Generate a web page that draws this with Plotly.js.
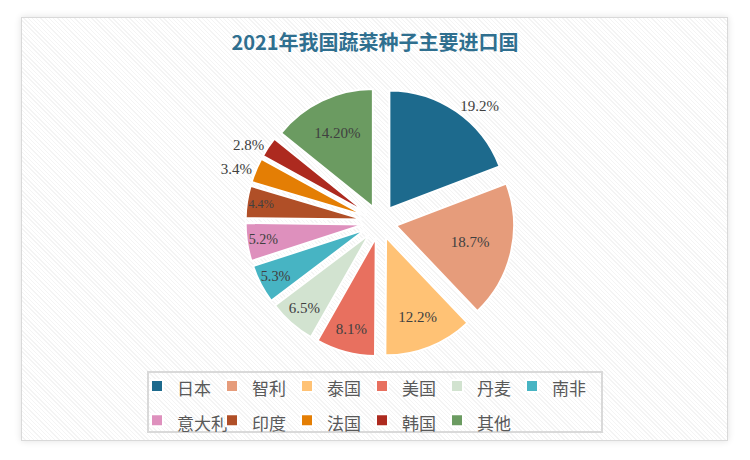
<!DOCTYPE html>
<html>
<head>
<meta charset="utf-8">
<script src="https://cdn.plot.ly/plotly-3.0.1.min.js"></script>
<style>
  html, body { margin: 0; padding: 0; background: #ffffff; }
  #wrap { position: relative; width: 750px; height: 460px; overflow: hidden; background: #ffffff; }
  #panel {
    position: absolute; left: 21px; top: 17px; width: 707px; height: 424px;
    border: 1px solid #d9d9d9; box-sizing: border-box;
    box-shadow: 0 0 7px rgba(0,0,0,0.12);
    background-color: #ffffff;
    background-image: repeating-linear-gradient(45deg, #ffffff 0px, #ffffff 2px, #f4f4f4 2px, #f4f4f4 3px);
  }
  #chart { position: absolute; left: 0; top: 0; width: 750px; height: 460px; }
</style>
</head>
<body>
<div id="wrap">
  <div id="panel"></div>
  <div id="chart"></div>
</div>
<script>
const countries = ['日本', '智利', '泰国', '美国', '丹麦', '南非', '意大利', '印度', '法国', '韩国', '其他'];
const shares = [19.2, 18.7, 12.2, 8.1, 6.5, 5.3, 5.2, 4.4, 3.4, 2.8, 14.2];
const shareLabels = ['19.2%', '18.7%', '12.2%', '8.1%', '6.5%', '5.3%', '5.2%', '4.4%', '3.4%', '2.8%', '14.20%'];
const sliceColors = ['#1d6a8d', '#e69c7b', '#ffc275', '#e8705f', '#d2e3d0', '#47b4c3', '#de90bd', '#b04f27', '#e47e04', '#ad2a1f', '#6b9b61'];
const labelPositions = ['outside', 'inside', 'inside', 'inside', 'inside', 'inside', 'inside', 'inside', 'outside', 'outside', 'inside'];

const legendNames = countries.map(c => '<span style="font-size:17px">' + c + '</span>');

const W = 750, H = 460, ML = 125, MR = 140;
const PW = W - ML - MR;
const px = x => (x - ML) / PW;
const py = y => (H - y) / H;

const labelFont = { family: 'Liberation Serif, DejaVu Serif, serif', size: 15, color: '#404040' };

const trace = {
  type: 'pie',
  labels: legendNames,
  values: shares,
  text: shareLabels,
  textinfo: 'text',
  textposition: labelPositions,
  insidetextorientation: 'horizontal',
  sort: false,
  direction: 'clockwise',
  rotation: 0,
  pull: 0.14,
  marker: { colors: sliceColors, line: { color: '#ffffff', width: 2 } },
  textfont: labelFont,
  insidetextfont: labelFont,
  outsidetextfont: labelFont,
  domain: { x: [px(245.5), px(514.5)], y: [py(356.5), py(87.5)] },
  hoverinfo: 'label+percent'
};

const layout = {
  width: W,
  height: H,
  margin: { l: ML, r: MR, t: 0, b: 0, autoexpand: false },
  paper_bgcolor: 'rgba(0,0,0,0)',
  plot_bgcolor: 'rgba(0,0,0,0)',
  title: {
    text: '<b>2021年我国蔬菜种子主要进口国</b>',
    font: { family: 'Noto Sans CJK SC, sans-serif', size: 20, color: '#2f6f8f' },
    x: 0.5, xref: 'container', xanchor: 'center',
    y: 1 - 43 / H, yref: 'container', yanchor: 'middle'
  },
  showlegend: true,
  legend: {
    orientation: 'h',
    x: px(137), xanchor: 'left',
    y: py(364), yanchor: 'top',
    font: { family: 'Noto Sans CJK SC, sans-serif', size: 24, color: '#595959' },
    bgcolor: 'rgba(0,0,0,0)',
    borderwidth: 0,
    entrywidth: 30,
    entrywidthmode: 'pixels',
    itemclick: false
  },
  shapes: [{
    type: 'rect', xref: 'paper', yref: 'paper',
    x0: px(148), x1: px(602), y0: py(432), y1: py(372),
    line: { color: '#d9d9d9', width: 2 },
    fillcolor: 'rgba(0,0,0,0)',
    layer: 'below'
  }]
};

Plotly.newPlot('chart', [trace], layout, { displayModeBar: false, staticPlot: true });
</script>
</body>
</html>
